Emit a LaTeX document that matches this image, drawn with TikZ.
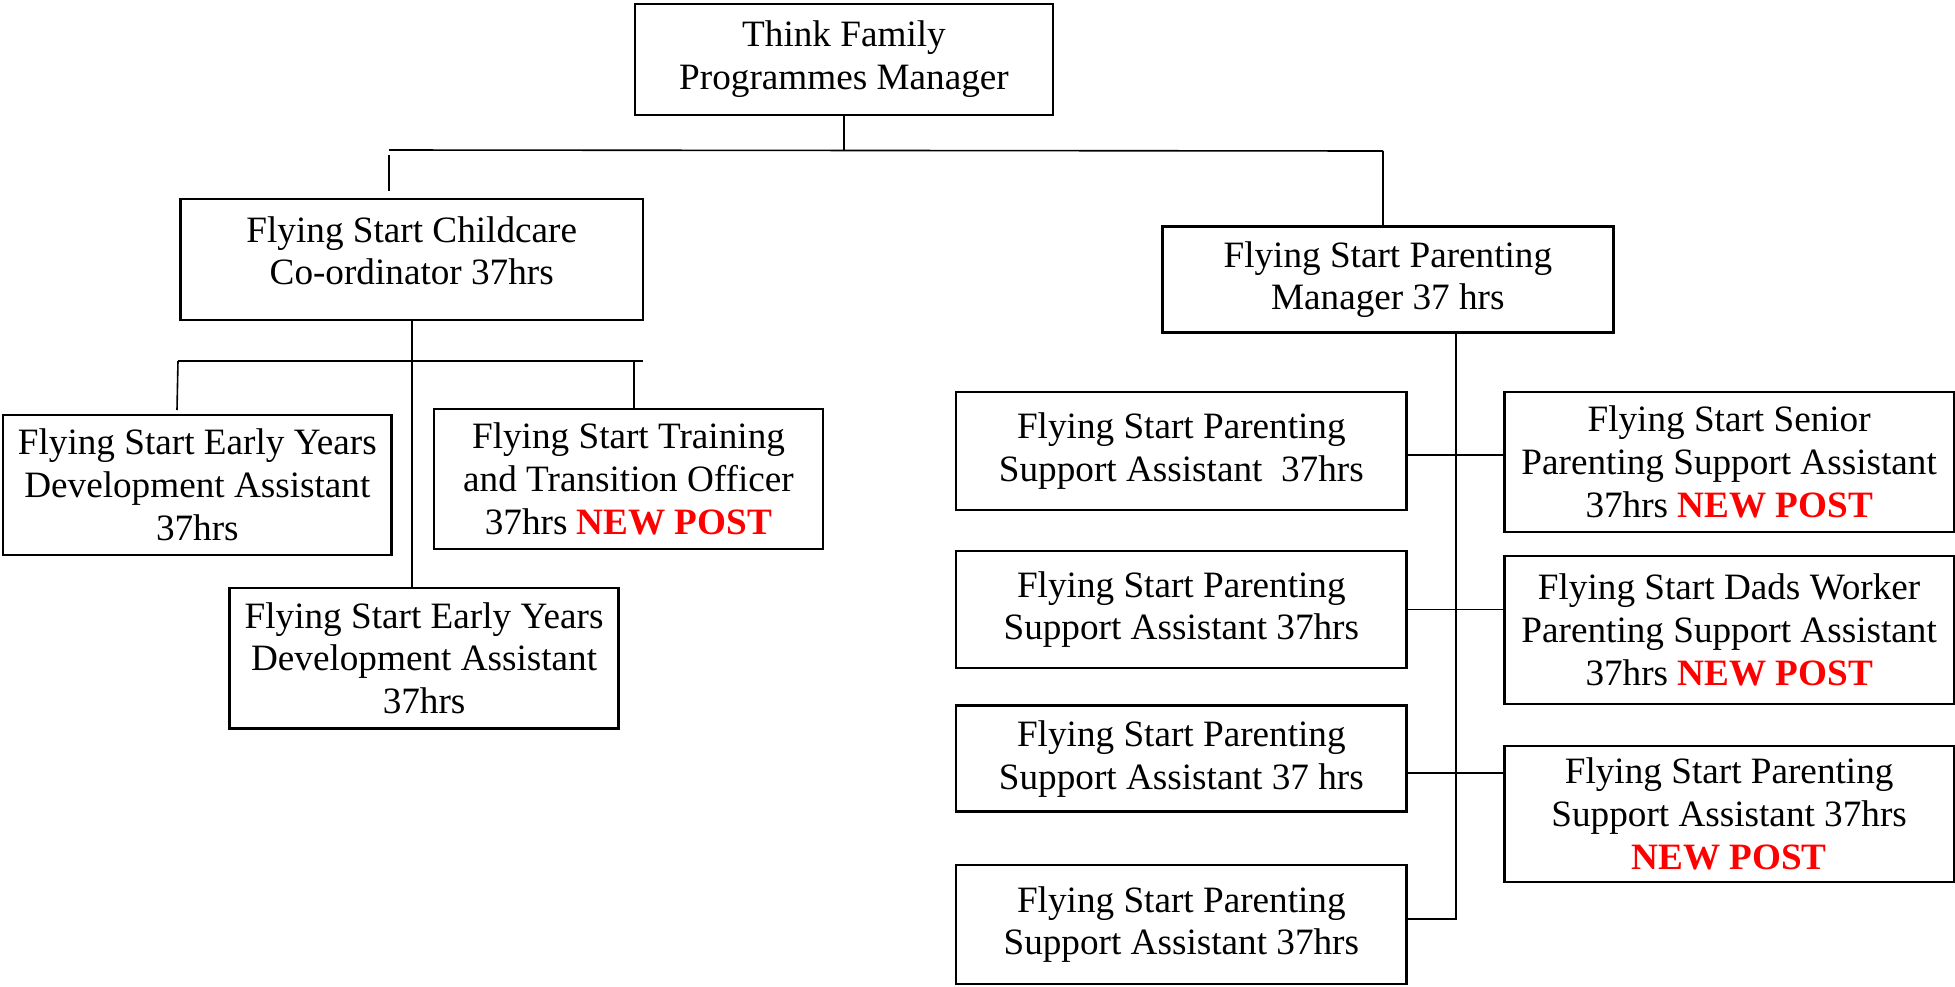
\documentclass[tikz,border=0pt]{standalone}
\usepackage{fontspec}
\setmainfont{Liberation Serif}
\newcommand{\newpost}{\textcolor{red}{\textbf{NEW POST}}}
\tikzset{
  post/.style={draw, line width=1.25pt, align=center, inner sep=0pt,
    font=\fontsize{18.6pt}{21.4pt}\selectfont},
  link/.style={line width=0.8pt}
}
\begin{document}
\begin{tikzpicture}[x=0.5pt, y=-0.5pt]
\useasboundingbox (0,0) rectangle (1955,986);

% top of the chart
\node[post, minimum width=209pt, minimum height=55.5pt] (tfpm) at (844,59.5) {Think Family\\Programmes Manager};

% childcare side
\node[post, minimum width=231.25pt, minimum height=60.5pt, text depth=9pt] (fscc) at (411.75,259.5) {Flying Start Childcare\\Co-ordinator 37hrs};
\node[post, minimum width=194.35pt, minimum height=70pt] (eyda1) at (197.35,485) {Flying Start Early Years\\Development Assistant\\37hrs};
\node[post, minimum width=194.5pt, minimum height=70pt] (trto) at (628.5,479) {Flying Start Training\\and Transition Officer\\37hrs \newpost};
\node[post, minimum width=194.5pt, minimum height=70.25pt] (eyda2) at (424.1,658.25) {Flying Start Early Years\\Development Assistant\\37hrs};

% parenting side
\node[post, minimum width=225.45pt, minimum height=53pt] (fsmgr) at (1387.85,279.7) {Flying Start Parenting\\Manager 37 hrs};
\node[post, minimum width=225.35pt, minimum height=59pt] (psa1) at (1181.35,451) {Flying Start Parenting\\Support Assistant~ 37hrs};
\node[post, minimum width=225.35pt, minimum height=58.5pt] (psa2) at (1181.35,609.5) {Flying Start Parenting\\Support Assistant 37hrs};
\node[post, minimum width=225.35pt, minimum height=53pt] (psa3) at (1181.35,758.7) {Flying Start Parenting\\Support Assistant 37 hrs};
\node[post, minimum width=225.35pt, minimum height=59.5pt] (psa4) at (1181.35,924.5) {Flying Start Parenting\\Support Assistant 37hrs};
\node[post, minimum width=224.85pt, minimum height=70pt] (senior) at (1729.15,462) {Flying Start Senior\\Parenting Support Assistant\\37hrs \newpost};
\node[post, minimum width=224.85pt, minimum height=74pt] (dads) at (1729.15,630) {Flying Start Dads Worker\\Parenting Support Assistant\\37hrs \newpost};
\node[post, minimum width=224.85pt, minimum height=68pt] (psanew) at (1729.15,814) {Flying Start Parenting\\Support Assistant 37hrs\\\newpost};

% lines under the manager
\coordinate (busL) at (389,150);
\coordinate (busR) at (1383,151);
\draw[link] (tfpm.south) -- (tfpm.south |- busL);
\draw[link] (busL) -- (busR);
\draw[link] (busR) -- (busR |- fsmgr.north);
\draw[link] ([yshift=-2.5pt]busL) -- ([yshift=-20.5pt]busL);

% lines under the childcare co-ordinator
\coordinate (kidsL) at (178,361);
\coordinate (kidsR) at (643,361);
\draw[link] (fscc.south) -- (fscc.south |- eyda2.north);
\draw[link] (kidsL) -- (kidsR);
\draw[link] (kidsL) -- ++(-1,49);
\draw[link] ([xshift=2.75pt]trto.north) -- ([xshift=2.75pt]trto.north |- kidsR);

% lines under the parenting manager
\coordinate (spine) at (1456,919);
\draw[link] (fsmgr.south -| spine) -- (spine) -- (spine -| psa4.east);
\draw[link] ([yshift=-2pt]psa1.east) -- ([yshift=-2pt]psa1.east -| senior.west);
\draw[link] (psa2.east) -- (psa2.east -| dads.west);
\draw[link] ([yshift=-7pt]psa3.east) -- ([yshift=-7pt]psa3.east -| psanew.west);

\end{tikzpicture}
\end{document}
